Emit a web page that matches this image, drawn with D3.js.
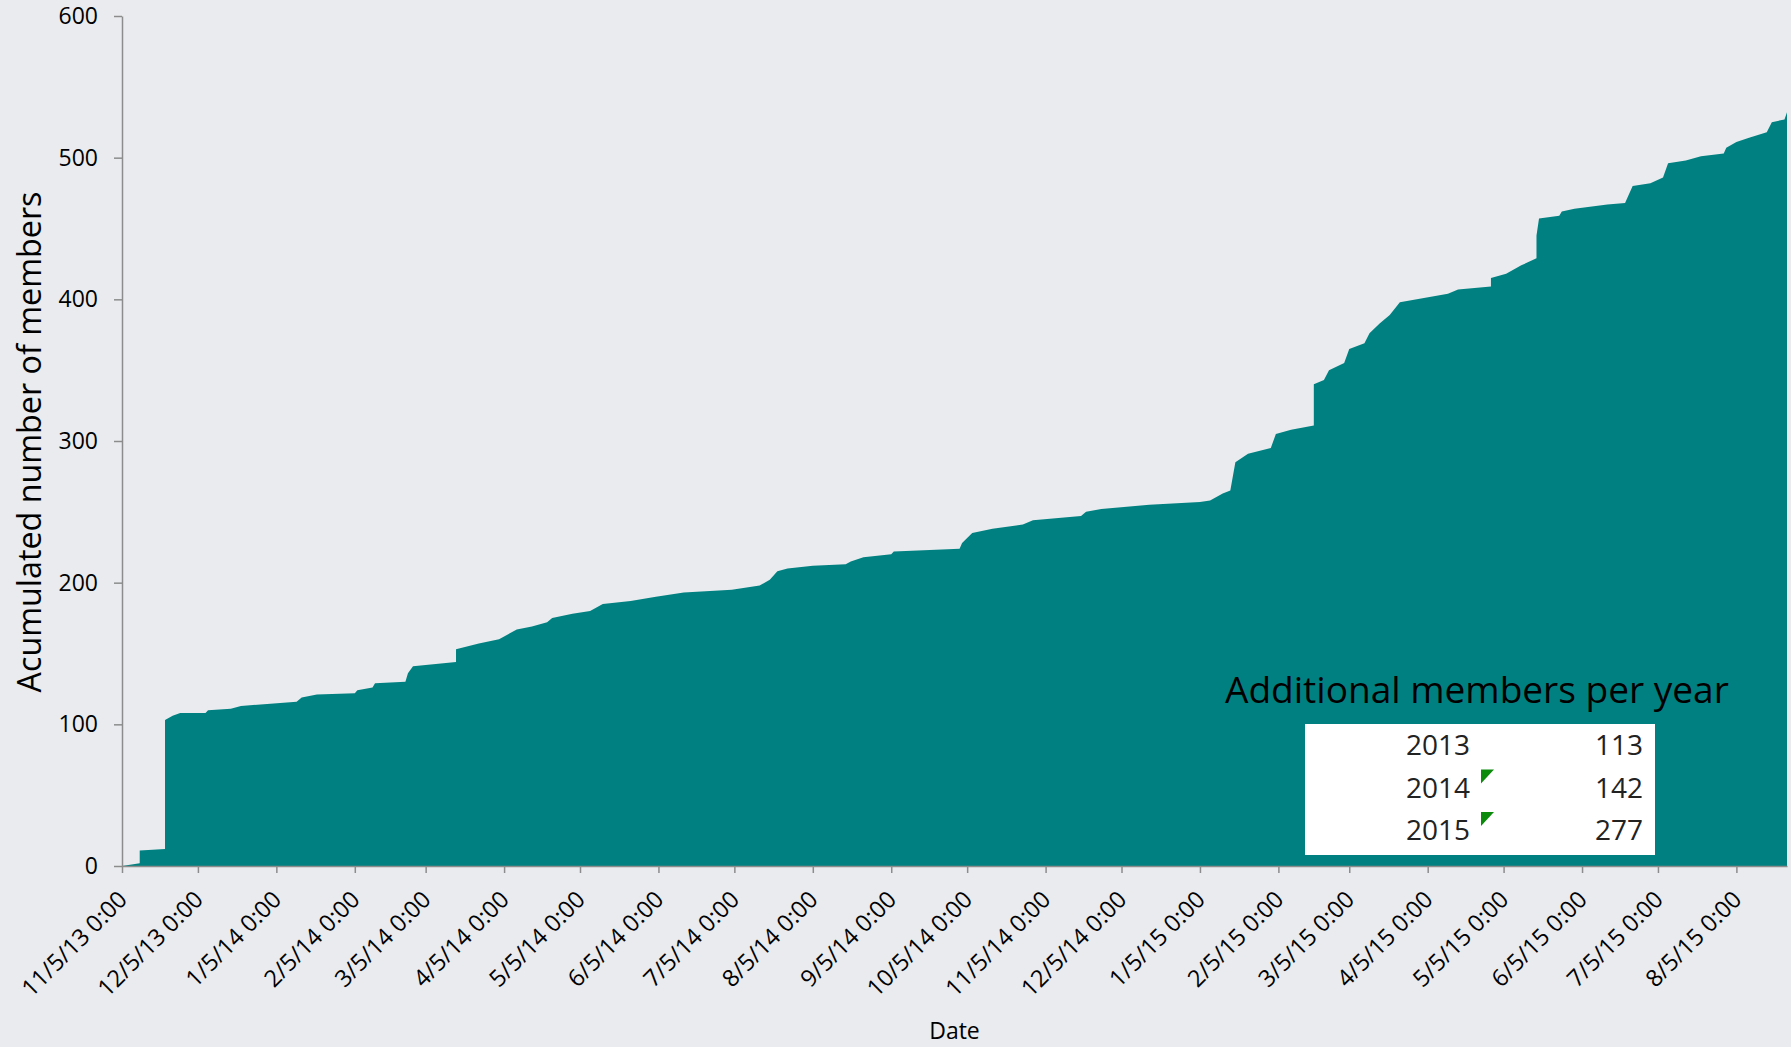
<!DOCTYPE html>
<html>
<head>
<meta charset="utf-8">
<script src="https://cdn.jsdelivr.net/npm/d3@7"></script>
<style>
  body { margin: 0; background: #e9ebee; }
  svg text { font-family: "Open Sans", sans-serif; fill: #000; }
  .axisLine path, .axisLine line { stroke: #8c8c8c; stroke-width: 1.5; }
</style>
</head>
<body>
<div id="Acumulado"></div>
<script>
// date each step was read at, and accumulated members at that date
const joinDates = [
  "2013-11-05", "2013-11-12", "2013-11-12", "2013-11-22", "2013-11-22", "2013-11-25", "2013-11-28",
  "2013-12-08", "2013-12-09", "2013-12-18", "2013-12-22",
  "2014-01-13", "2014-01-15", "2014-01-21", "2014-02-05", "2014-02-06", "2014-02-12", "2014-02-13",
  "2014-02-25", "2014-02-26", "2014-02-28", "2014-03-17", "2014-03-17", "2014-03-26",
  "2014-04-03", "2014-04-05", "2014-04-10", "2014-04-16", "2014-04-22", "2014-04-24",
  "2014-05-02", "2014-05-09", "2014-05-14", "2014-05-25", "2014-06-04", "2014-06-15",
  "2014-07-04", "2014-07-15", "2014-07-19", "2014-07-22", "2014-07-26", "2014-08-05",
  "2014-08-18", "2014-08-20", "2014-08-25", "2014-09-05", "2014-09-06", "2014-10-02",
  "2014-10-03", "2014-10-07", "2014-10-15", "2014-10-27", "2014-10-31", "2014-11-19",
  "2014-11-21", "2014-11-27", "2014-12-16",
  "2015-01-05", "2015-01-09", "2015-01-14", "2015-01-17", "2015-01-19", "2015-01-24",
  "2015-02-02", "2015-02-04", "2015-02-10", "2015-02-19", "2015-02-19", "2015-02-23",
  "2015-02-25", "2015-03-03", "2015-03-05", "2015-03-11", "2015-03-13", "2015-03-17",
  "2015-03-21", "2015-03-25", "2015-04-13", "2015-04-17", "2015-04-30", "2015-04-30",
  "2015-05-06", "2015-05-12", "2015-05-18", "2015-05-18", "2015-05-19", "2015-05-27",
  "2015-05-28", "2015-06-02", "2015-06-15", "2015-06-22", "2015-06-25", "2015-07-02",
  "2015-07-07", "2015-07-09", "2015-07-16", "2015-07-22", "2015-07-31", "2015-08-01",
  "2015-08-05", "2015-08-10", "2015-08-17", "2015-08-19", "2015-08-24", "2015-08-25"
];
const members = [
  0, 2, 11, 12, 103, 106, 108,
  108, 110, 111, 113,
  116, 119, 121, 122, 124, 126, 129,
  130, 136, 141, 144, 153, 157,
  160, 162, 167, 169, 172, 175,
  178, 180, 185, 187, 190, 193,
  195, 198, 202, 208, 210, 212,
  213, 215, 218, 220, 222, 224,
  228, 235, 238, 241, 244, 247,
  250, 252, 255,
  257, 258, 263, 265, 285, 291,
  295, 305, 308, 311, 340, 343,
  350, 355, 365, 369, 376, 383,
  389, 398, 404, 407, 409, 415,
  418, 424, 429, 445, 457, 459,
  462, 464, 467, 468, 480, 482,
  486, 496, 498, 501, 503, 507,
  511, 514, 518, 525, 527, 532
];

const tickLabels = [
  "11/5/13 0:00", "12/5/13 0:00", "1/5/14 0:00", "2/5/14 0:00", "3/5/14 0:00", "4/5/14 0:00",
  "5/5/14 0:00", "6/5/14 0:00", "7/5/14 0:00", "8/5/14 0:00", "9/5/14 0:00", "10/5/14 0:00",
  "11/5/14 0:00", "12/5/14 0:00", "1/5/15 0:00", "2/5/15 0:00", "3/5/15 0:00", "4/5/15 0:00",
  "5/5/15 0:00", "6/5/15 0:00", "7/5/15 0:00", "8/5/15 0:00"
];
const yTicks = [0, 100, 200, 300, 400, 500, 600];

const years = ["2013", "2014", "2015"];
const yearAdds = [113, 142, 277];
const yearFlags = [false, true, true];

class Acumulado {
  constructor(config) {
    this.config = config;

    this.svg = null;
    this.margins = null;

    this.xScale = null;
    this.yScale = null;

    this.points = [];

    this.createSvg();
    this.createMargins();
  }

  createSvg() {
    this.svg = d3.select(this.config.div)
      .append("svg")
      .attr("width", this.config.totalWidth)
      .attr("height", this.config.totalHeight);
  }

  createMargins() {
    this.margins = this.svg
      .append("g")
      .attr("transform", `translate(${this.config.left},${this.config.top})`);
  }

  loadData() {
    let parse = d3.timeParse("%Y-%m-%d");
    this.points = joinDates.map((d, i) => ({ date: parse(d), value: members[i] }));
  }

  createScales() {
    this.xScale = d3.scaleTime()
      .domain(d3.extent(this.points, d => d.date))
      .range([0, this.config.width]);
    this.yScale = d3.scaleLinear()
      .domain([0, 600])
      .range([this.config.height, 0]);
  }

  renderArea() {
    let area = d3.area()
      .x(d => this.xScale(d.date))
      .y0(this.config.height)
      .y1(d => this.yScale(d.value));

    this.margins.append("path")
      .datum(this.points)
      .attr("fill", "#008080")
      .attr("d", area);
  }

  createAxis() {
    let parseTick = d3.timeParse("%m/%d/%y %H:%M");
    let tickDates = tickLabels.map(t => parseTick(t));

    let xAxis = d3.axisBottom(this.xScale)
      .tickValues(tickDates)
      .tickFormat((d, i) => tickLabels[i])
      .tickSize(7)
      .tickSizeOuter(0);

    let yAxis = d3.axisLeft(this.yScale)
      .tickValues(yTicks)
      .tickSize(8)
      .tickPadding(16)
      .tickSizeOuter(0);

    let gx = this.margins.append("g")
      .attr("class", "x axisLine")
      .attr("transform", `translate(0,${this.config.height})`)
      .call(xAxis);

    gx.attr("font-size", 23.5).attr("font-family", null);
    gx.selectAll("text")
      .attr("x", 0)
      .attr("y", 0)
      .attr("dy", 0)
      .attr("fill", "#000")
      .attr("text-anchor", "end")
      .attr("transform", "translate(6,35) rotate(-45)");

    let gy = this.margins.append("g")
      .attr("class", "y axisLine")
      .call(yAxis);

    gy.attr("font-size", 23).attr("font-family", null);
    gy.selectAll("text").attr("fill", "#000");
  }

  fitWidth(text, target) {
    let w = text.node().getComputedTextLength();
    let fs = parseFloat(text.attr("font-size"));
    text.attr("font-size", fs * target / w);
  }

  renderLabels() {
    let yLabel = this.svg.append("text")
      .attr("text-anchor", "middle")
      .attr("font-size", 32)
      .attr("transform", "translate(41,442) rotate(-90)")
      .text("Acumulated number of members");
    this.fitWidth(yLabel, 501);

    this.svg.append("text")
      .attr("text-anchor", "middle")
      .attr("font-size", 23)
      .attr("x", this.config.left + this.config.width / 2)
      .attr("y", 1039)
      .text("Date");
  }

  renderTable() {
    let t = this.config.table;

    let title = this.svg.append("text")
      .attr("x", t.titleX)
      .attr("y", t.titleY)
      .attr("font-size", 34)
      .text("Additional members per year");
    this.fitWidth(title, t.titleWidth);

    this.svg.append("rect")
      .attr("x", t.x)
      .attr("y", t.y)
      .attr("width", t.width)
      .attr("height", t.height)
      .attr("fill", "#fff");

    let rows = this.svg.selectAll("g.row")
      .data(years)
      .enter()
      .append("g")
      .attr("class", "row")
      .attr("transform", (d, i) => `translate(0,${t.firstBaseline + i * t.rowStep})`);

    rows.append("text")
      .attr("x", t.yearRight)
      .attr("text-anchor", "end")
      .attr("font-size", 28)
      .style("fill", "#222")
      .text(d => d);

    rows.append("text")
      .attr("x", t.valueRight)
      .attr("text-anchor", "end")
      .attr("font-size", 28)
      .style("fill", "#222")
      .text((d, i) => yearAdds[i]);

    rows.filter((d, i) => yearFlags[i])
      .append("path")
      .attr("fill", "#0b8a0b")
      .attr("d", `M${t.flagX},-28 h13 L${t.flagX},-14 Z`);
  }

  render() {
    this.loadData();
    this.createScales();
    this.renderArea();
    this.createAxis();
    this.renderLabels();
    this.renderTable();
  }
}

function main() {
  let c = {
    div: "#Acumulado", totalWidth: 1791, totalHeight: 1047,
    width: 1665, height: 850, top: 16, left: 122,
    table: {
      titleX: 1225, titleY: 703, titleWidth: 504,
      x: 1305, y: 724, width: 350, height: 131,
      firstBaseline: 755, rowStep: 42.5,
      yearRight: 1470, valueRight: 1643, flagX: 1481
    }
  };

  let plotter = new Acumulado(c);
  plotter.render();
}

main();
</script>
</body>
</html>
